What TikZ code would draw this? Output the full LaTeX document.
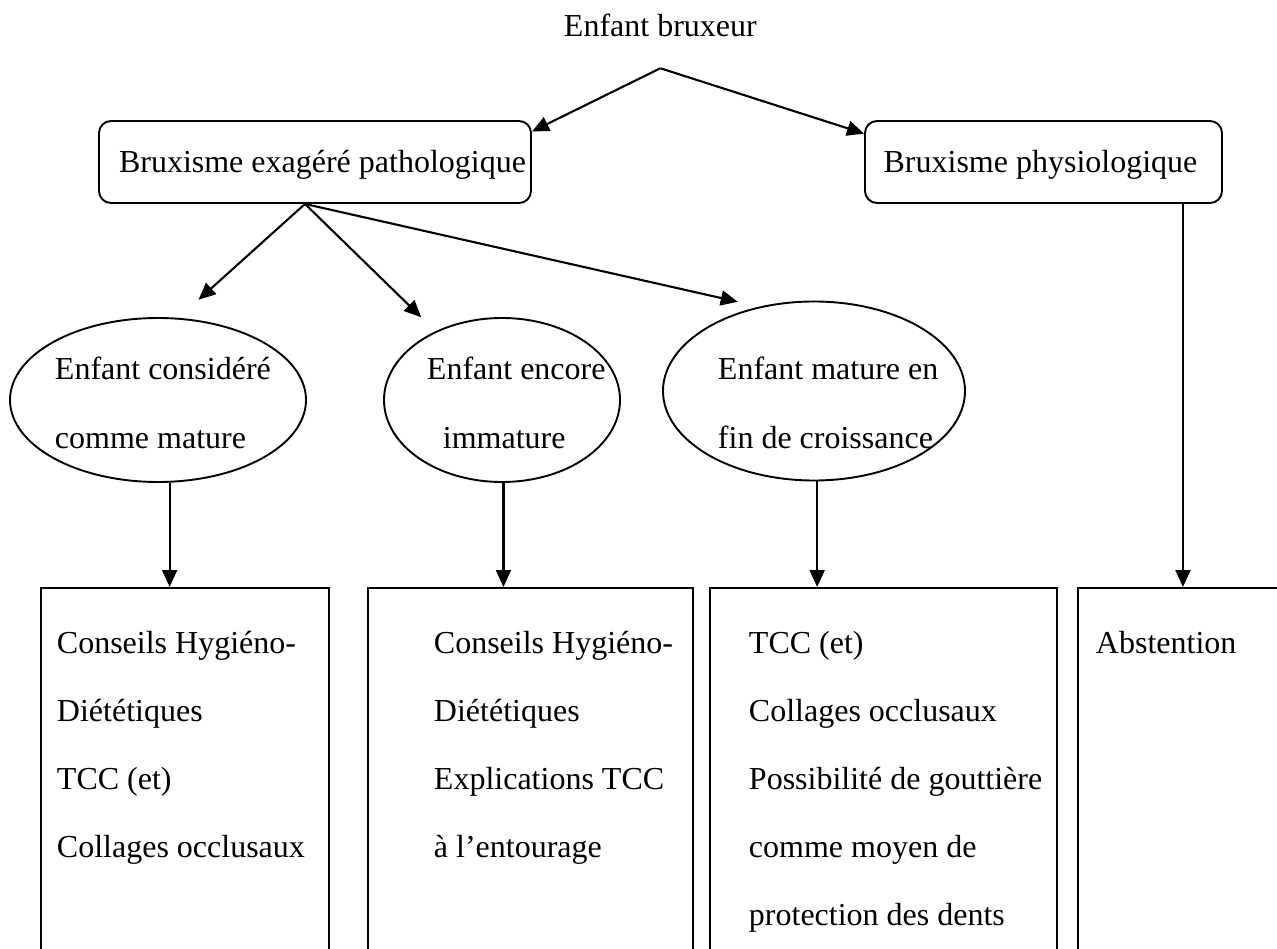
\documentclass[tikz,border=0pt]{standalone}
\usepackage{fontspec}
\setmainfont{Liberation Serif}
\usepackage{tikz}
\usetikzlibrary{shapes.geometric, arrows.meta, positioning}

\begin{document}
\begin{tikzpicture}[x=1pt, y=-1pt, line width=1.9pt, every node/.style={font=\fontsize{32}{68.2}\selectfont}]
    % Styles for boxes, ovals and arrows
    \tikzstyle{txt} = [inner sep=0pt, align=left, anchor=north west]
    \tikzstyle{rbox} = [rectangle, draw, rounded corners=12pt, minimum height=82pt, text height=25pt, text depth=3pt, inner sep=0pt]
    \tikzstyle{oval} = [ellipse, draw, inner sep=0pt, minimum height=164pt]
    \tikzstyle{ovaltext} = [txt, font=\fontsize{32}{69.5}\selectfont]
    \tikzstyle{panel} = [rectangle, draw, anchor=north west, minimum height=420pt]
    \tikzstyle{arrow} = [line width=2.1pt, -{Triangle[length=17pt, width=15pt]}]

    \useasboundingbox (0,0) rectangle (1277,949);
    \clip (0,0) rectangle (1277,949);

    % Nodes
    \node[txt, anchor=base west] (enfant) at (563,37) {Enfant bruxeur};
    \coordinate[below=30pt of enfant.south] (apex);

    \node[rbox, minimum width=432pt] (patho) at (315,162) {\hspace*{15pt}Bruxisme exagéré pathologique};
    \node[rbox, minimum width=357pt] (physio) at (1043.5,162) {Bruxisme physiologique\hspace*{6pt}};

    \node[oval, minimum width=296pt] (considere) at (158,400) {};
    \node[oval, minimum width=236pt] (immature) at (502,400) {};
    \node[oval, minimum width=302pt, minimum height=179pt] (croissance) at (814,391) {};
    \node[ovaltext] (considereT) at (54,356) {Enfant considéré\\comme mature};
    \node[ovaltext] (immatureT) at (426,356) {Enfant encore\\\hspace*{16pt}immature};
    \node[ovaltext] (croissanceT) at (717,356) {Enfant mature en\\fin de croissance};

    \node[panel, minimum width=288pt] (boxA) at (40,587) {};
    \node[panel, minimum width=325pt] (boxB) at (367,587) {};
    \node[panel, minimum width=347pt] (boxC) at (709,587) {};
    \node[panel, minimum width=260pt] (boxD) at (1077,587) {};

    % Text inside the bottom boxes
    \node[txt, below right=43pt and 16pt of boxA.north west] (boxAT) {Conseils Hygiéno-\\Diététiques\\TCC (et)\\Collages occlusaux};
    \node[txt, below right=43pt and 66pt of boxB.north west] (boxBT) {Conseils Hygiéno-\\Diététiques\\Explications TCC\\à l’entourage};
    \node[txt, below right=43pt and 39pt of boxC.north west] (boxCT) {TCC (et)\\Collages occlusaux\\Possibilité de gouttière\\comme moyen de\\protection des dents};
    \node[txt, below right=43pt and 18pt of boxD.north west] (boxDT) {Abstention};

    % Arrows
    \draw[arrow] (apex) -- (patho.8);
    \draw[arrow] (apex) -- (physio.171);
    \draw[arrow, shorten >=27pt] ([xshift=-10pt]patho.south) -- (considere.76);
    \draw[arrow, shorten >=20pt] ([xshift=-10pt]patho.south) -- (immature.134);
    \draw[arrow, shorten >=22pt] ([xshift=-10pt]patho.south) -- (croissance.123);
    \draw[arrow] (considere.-82) -- (considere.-82 |- boxA.north);
    \draw[arrow] (immature.-89) -- (immature.-89 |- boxB.north);
    \draw[arrow] (croissance.-88) -- (croissance.-88 |- boxC.north);
    \draw[arrow] ([xshift=-40pt]physio.south east) -- ([xshift=-40pt]physio.south east |- boxD.north);
\end{tikzpicture}
\end{document}
